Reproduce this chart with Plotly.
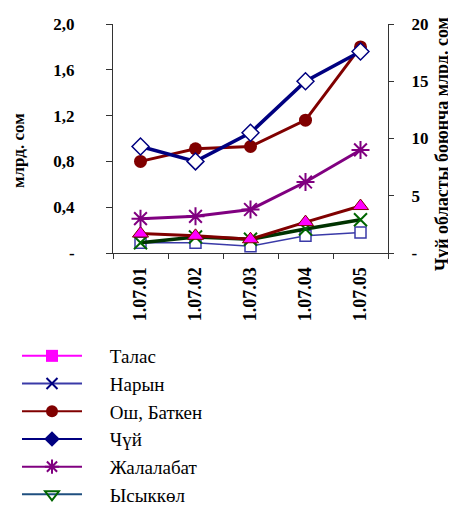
import plotly.graph_objects as go

categories = ["1.07.01", "1.07.02", "1.07.03", "1.07.04", "1.07.05"]
talas = [0.17, 0.15, 0.12, 0.27, 0.41]
naryn = [0.09, 0.09, 0.06, 0.15, 0.18]
osh_batken = [0.80, 0.91, 0.93, 1.16, 1.80]
chui = [9.3, 8.0, 10.5, 15.0, 17.6]  # right axis
jalalabad = [0.30, 0.32, 0.38, 0.62, 0.90]
issykkul = [0.09, 0.14, 0.12, 0.21, 0.29]

left_ticks = [0, 0.4, 0.8, 1.2, 1.6, 2.0]
left_ticktext = ["-", "0,4", "0,8", "1,2", "1,6", "2,0"]
right_ticks = [0, 5, 10, 15, 20]
right_ticktext = ["-", "5", "10", "15", "20"]

names = ["Талас", "Нарын", "Ош, Баткен", "Чүй", "Жалалабат", "Ысыккөл"]
left_title = "млрд. сом"
right_title = "Чүй областы боюнча млрд. сом"

SERIF = "'Times New Roman', 'Liberation Serif', Tinos, serif"
W, H = 456, 508
OFF = 8  # page body margin
PL, PR, PT, PB = 113, 388, 24, 253  # plot area in page pixels
L, T = PL - OFF, PT - OFF
R = W - (PR - OFF)
B = H - (PB - OFF)
PW, PH = PR - PL, PB - PT

def px(x):
    return (x - PL) / PW

def py(y):
    return (PB - y) / PH

fig = go.Figure()

fig.add_trace(go.Scatter(x=categories, y=naryn, mode="lines+markers", showlegend=False,
    line=dict(color="#3a3aa8", width=1.5),
    marker=dict(symbol="square", size=11, color="white", line=dict(color="#3a3aa8", width=1.5))))
fig.add_trace(go.Scatter(x=categories, y=issykkul, mode="lines+markers", showlegend=False,
    line=dict(color="#003300", width=3.5),
    marker=dict(symbol="x-thin-open", size=13, color="#006600", line=dict(color="#005500", width=2))))
fig.add_trace(go.Scatter(x=categories, y=talas, mode="lines+markers", showlegend=False,
    line=dict(color="#800000", width=3),
    marker=dict(symbol="triangle-up", size=14, color="#ff00ff", line=dict(color="#800000", width=1))))
fig.add_trace(go.Scatter(x=categories, y=jalalabad, mode="lines+markers", showlegend=False,
    line=dict(color="#800080", width=3),
    marker=dict(symbol="asterisk-open", size=15, color="#800080", line=dict(color="#800080", width=2))))
fig.add_trace(go.Scatter(x=categories, y=osh_batken, mode="lines+markers", showlegend=False,
    line=dict(color="#800000", width=3),
    marker=dict(symbol="circle", size=13, color="#800000")))
fig.add_trace(go.Scatter(x=categories, y=chui, mode="lines+markers", showlegend=False, yaxis="y2",
    line=dict(color="#000080", width=3.5),
    marker=dict(symbol="diamond", size=13, color="white", line=dict(color="#000080", width=1.5))))

legend_styles = [
    dict(line=dict(color="#ff00ff", width=2), marker=dict(symbol="square", size=12, color="#ff00ff")),
    dict(line=dict(color="#3a3aa8", width=2), marker=dict(symbol="x-thin-open", size=11, color="#000080", line=dict(color="#000080", width=2))),
    dict(line=dict(color="#800000", width=2), marker=dict(symbol="circle", size=12, color="#800000")),
    dict(line=dict(color="#000080", width=2), marker=dict(symbol="diamond", size=12, color="#000080")),
    dict(line=dict(color="#800080", width=2), marker=dict(symbol="asterisk-open", size=12, color="#800080", line=dict(color="#800080", width=2))),
    dict(line=dict(color="#1f4f7f", width=2), marker=dict(symbol="triangle-down-open", size=12, color="#006600", line=dict(color="#006600", width=2))),
]
for i, (n, st) in enumerate(zip(names, legend_styles)):
    fig.add_trace(go.Scatter(x=[None], y=[None], mode="lines+markers", name="\u2002\u2002\u2009" + n,
                             showlegend=True, legendgroup=f"g{i}", **st))

tickfont = dict(family=SERIF, size=17, color="black", weight="bold")
xtickfont = dict(family=SERIF, size=18, color="black", weight="bold")

fig.update_layout(
    width=W, height=H,
    margin=dict(l=L, r=R, t=T, b=B, autoexpand=False),
    paper_bgcolor="white", plot_bgcolor="white",
    font=dict(family=SERIF, color="black"),
    showlegend=True,
    legend=dict(x=px(17), y=py(337), xanchor="left", yanchor="top",
                font=dict(family=SERIF, size=19, color="black"), itemwidth=60,
                tracegroupgap=4, bgcolor="rgba(0,0,0,0)", traceorder="normal", maxheight=1000),
    xaxis=dict(type="category", showline=True, linecolor="#333", linewidth=1, ticks="outside",
               tickson="boundaries", ticklen=5, tickcolor="#333", tickangle=-90,
               ticklabelstandoff=6, tickfont=xtickfont,
               showgrid=False, zeroline=False, range=[-0.5, 4.5]),
    yaxis=dict(range=[0, 2.0], tickvals=left_ticks, ticktext=left_ticktext, showline=True,
               linecolor="#333", linewidth=1, ticks="outside", ticklen=6, tickcolor="#333",
               ticklabelstandoff=28, showgrid=False, zeroline=False, tickfont=tickfont),
    yaxis2=dict(range=[0, 20], tickvals=right_ticks, ticktext=right_ticktext, overlaying="y",
                side="right", showline=True, linecolor="#333", linewidth=1, ticks="outside",
                ticklen=5, tickcolor="#333", ticklabelstandoff=14, showgrid=False, zeroline=False,
                tickfont=tickfont),
    annotations=[
        dict(text=f"<b>{left_title}</b>", xref="paper", yref="paper",
             x=px(18), y=py(151), textangle=-90,
             showarrow=False, font=dict(family=SERIF, size=17, color="black"),
             xanchor="center", yanchor="middle"),
        dict(text=f"<b>{right_title}</b>", xref="paper", yref="paper",
             x=px(442), y=py(144), textangle=-90,
             showarrow=False, font=dict(family=SERIF, size=18, color="black"),
             xanchor="center", yanchor="middle"),
    ],
)

fig.write_html("out.html")
